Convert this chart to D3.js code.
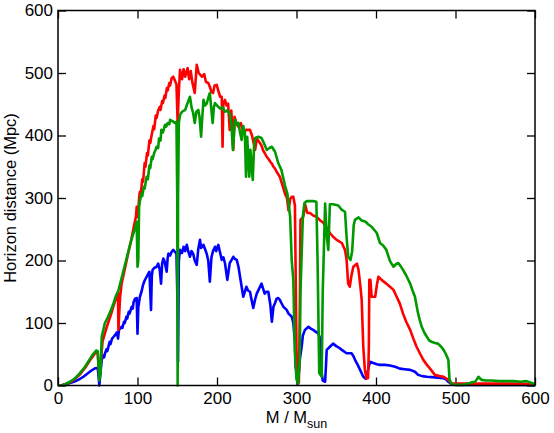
<!DOCTYPE html>
<html>
<head>
<meta charset="utf-8">
<script src="https://cdn.jsdelivr.net/npm/d3@7"></script>
<style>
  body { margin: 0; background: #fff; }
  text { font-family: "Liberation Sans", Arial, Helvetica, sans-serif; }
</style>
</head>
<body>
<div id="chart"></div>
<script>
// horizon distance vs total mass, three detector configurations
let xTicks = [0, 100, 200, 300, 400, 500, 600]
let yTicks = [0, 100, 200, 300, 400, 500, 600]

let redData = [[0,0],[5,0.5],[9,2],[15,5],[21,10],[27,17],[34,28],[40,40],[44,47],[48,54],[50,50],[52,14],[54,40],[56,70],[60,88],[63,100],[67,115],[70,128],[74,143],[75.5,148],[76,89],[78,140],[80,163],[84,186],[88,210],[92,232],[95,252],[98,270],[99,286],[100.5,270],[102,300],[103,310],[104,305],[106,330],[107,326],[109,356],[110,350],[112,372],[113,368],[115,392],[116,388],[118,402],[120,415],[121,410],[123,432],[124,428],[126,440],[128,446],[129,441],[131,455],[132,452],[134,464],[135,460],[137,476],[138,472],[140,484],[141,480],[143,492],[145,494],[147,488],[149,482],[150.5,420],[152,470],[153.5,505],[156,490],[158,506],[160,494],[163,508],[165,490],[167,503],[169,485],[172,468],[174.5,513],[177,500],[181,494],[184,498],[186,486],[189,484],[191,478],[193,470],[195,468],[197,480],[199.6,481],[202,470],[204,462],[206,462],[207,382],[208,450],[210,457],[212,448],[214,451],[216,409],[218,440],[220.5,377],[222,430],[225,418],[227,414],[230,420],[233,405],[237,409],[241.5,409],[244,400],[248,377],[250,395],[254,388],[256,384],[258,376],[260,372],[262.5,366],[265,362],[267,358],[269,355],[271,350],[273,347],[275,342],[277,338],[279,334],[282,322],[285.5,307],[288,300],[290,280],[292,298],[294,302],[296,302],[298,288],[300,60],[301,9],[303,5],[304,100],[305,265],[308.5,270],[311,289],[313.6,276],[317,276],[321,272],[325,270],[330,264],[334,260],[338,252],[342,244],[346,238],[350.5,233],[357,228],[361,217],[363,201],[365,163],[367,158],[369,175],[371.5,190],[376,195],[378,185],[380,163],[382,137],[384,62],[386,25],[388,11],[390,12],[391,60],[391.6,169],[393,169],[394.5,142],[399,142],[401,160],[403,174],[407,169],[413,163],[417.6,158],[422,153],[426,142],[430,131],[434,115],[438,102],[443,89],[447,75],[451,62],[455,52],[459.5,41],[464,33],[468,27],[474,17],[480,15],[485,14],[491,9],[495,3],[510,3],[530,3],[560,3],[580,3],[600,2]]

let greenData = [[0,0],[5,0.5],[9,2],[15,6],[21,11],[27,19],[34,30],[40,42],[44,50],[48,56],[50,55],[51,30],[52,8],[53.5,20],[55,78],[59,100],[63,110],[67,122],[70,132],[73,144],[76,152],[80,172],[84,192],[88,212],[92,232],[97,252],[99,262],[100,190],[101,200],[102,286],[103,295],[105,307],[106,303],[108,318],[109,315],[111.5,334],[113,330],[115,352],[116,348],[118,366],[119,362],[121,372],[123,378],[124,382],[126,380],[127,395],[129,392],[130,409],[132,405],[134.6,417],[136,414],[138,420],[140,418],[141,425],[144,423],[147,420],[149,422],[150,300],[150.5,0],[151,300],[152,420],[153.5,433],[156,438],[160,441],[163,452],[166,462],[168,445],[170,436],[172,420],[174,438],[176.5,441],[178,430],[180,398],[181,420],[183,457],[185,448],[187,451],[189,460],[191,468],[193,440],[194.6,420],[196,445],[197.5,452],[200,448],[204,443],[207,445],[210,438],[213,440],[216,435],[218,420],[220,377],[222.6,425],[225,418],[227,420],[229,405],[231,393],[233,415],[235,405],[236.5,334],[238,398],[240.6,334],[242,377],[245,329],[246.5,380],[248,396],[252,398],[256,396],[259,388],[262.5,377],[266,380],[269,382],[273,374],[277,356],[281,345],[285.5,320],[288.5,307],[292,270],[294,200],[296,169],[298,52],[300,10],[302,3],[304,40],[305,150],[308,270],[310,292],[313,295],[317,295],[321,295],[325,294],[326.5,200],[328.6,20],[331.7,14],[333,150],[336,291],[338,240],[340,217],[342,290],[346,290],[352.6,288],[357,281],[361,278],[363,238],[365,206],[368,201],[370,215],[372,257],[373.6,265],[378,269],[382,264],[387,262],[390,258],[394.5,254],[401,244],[405,228],[409,224],[413,217],[417.6,199],[422,190],[425,194],[428,196],[431,191],[434,185],[438,176],[443,163],[446,152],[449,142],[451,128],[453,115],[455,105],[457.5,94],[461,84],[464,78],[467,72],[470,70],[474,68],[478,67],[482,62],[485,57],[488,50],[491,41],[492.5,9],[495,3],[500,1],[505.6,1],[510,1],[516,3],[520,5],[524.5,6],[527,10],[529,14],[531,11],[533,9],[538,8],[545,8],[555,7],[565,7],[573,7],[582,6],[589.5,7],[594,5],[596,4],[600,2]]

let blueData = [[0,0],[5,0.3],[13,3],[20,6],[25.5,9],[32,14],[38,20],[42,24],[46.5,27.5],[50,28],[51,15],[52,0],[53,15],[55,41],[57,48],[58,45],[59,51],[61,58],[62,55],[65,70],[66,66],[68,75],[70,78],[72,81],[74,85],[75.5,75],[76.7,89],[78,91],[80,94],[81,92],[83,102],[84,100],[86,110],[87,107],[89,118],[90,115],[92.7,126],[94,123],[95,133],[97,139],[99,140],[100,83],[101,125],[103,142],[105,150],[107,161],[109,168],[111.5,174],[113.6,179],[115,182],[117,121],[118,175],[119,185],[121,188],[124,190],[126,195],[128,185],[129.6,163],[131,195],[132.5,203],[134,199],[136.7,182],[138,205],[139,211],[141,208],[143,214],[145,217],[147,214],[149,211],[150.5,120],[151,38],[152,200],[153.5,217],[156,212],[158,222],[160,215],[162,225],[164,214],[166,206],[168,215],[170,211],[172,200],[174.5,193],[176.5,219],[178.6,233],[180,220],[183,225],[185,218],[187,211],[189,200],[191,166],[193,205],[195,215],[197.5,222],[199,215],[201.6,225],[204,212],[206,201],[208,205],[210,196],[213,169],[216,196],[218,200],[220.5,206],[222,203],[224.8,201],[227,190],[229,174],[231,158],[233,142],[235,150],[237,158],[239,152],[241.5,150],[243,140],[245.6,124],[248,138],[250,147],[253,155],[256,163],[258,155],[260,147],[262,150],[264.5,150],[267,130],[269,102],[271,126],[273,132],[275,139],[277,140],[279,137],[281,132],[283.5,126],[287.6,121],[290,115],[294,110],[296,100],[298,70],[299,30],[302,3],[304,40],[306.5,62],[308,80],[310.7,89],[315,94],[318,91],[321,89],[324,86],[327,84],[329,78],[330.5,50],[331.7,20],[333,8],[336,6],[337,30],[338,57],[342,62],[346,67],[350,63],[354,60],[357,57],[363,51.5],[369.4,51.5],[372,46],[373.6,41],[377,33],[380,25],[384,14],[387,11],[390,25],[392.5,38],[396.6,36],[401,34],[405,33],[411,33],[417.6,32],[424,30],[430,27],[436,26],[443,25],[449,22],[453,17],[458,15],[464,14],[474,13],[485,11.5],[488,10],[491,6],[495,2],[500,1],[520,1],[540,1],[560,1],[580,1],[600,1]]

let margin = {
  top: 10.5,
  right: 19,
  bottom: 47.5,
  left: 58
}

let width = 554
let height = 433

let svg = d3.select("#chart")
  .append("svg")
  .attr("width", width)
  .attr("height", height)

let x = d3.scaleLinear()
  .domain([0, 600])
  .range([margin.left, width - margin.right])

let y = d3.scaleLinear()
  .domain([0, 600])
  .range([height - margin.bottom, margin.top])

let line = d3.line()
  .x(d => x(d[0]))
  .y(d => y(d[1]))

// ticks on all four sides, pointing inward
svg.append("g")
  .attr("transform", `translate(0,${y(0)})`)
  .call(d3.axisBottom(x).tickValues(xTicks).tickSize(-8).tickPadding(6))
  .call(g => g.select(".domain").remove())

svg.append("g")
  .attr("transform", `translate(0,${y(600)})`)
  .call(d3.axisTop(x).tickValues(xTicks).tickSize(-8).tickFormat(""))
  .call(g => g.select(".domain").remove())

svg.append("g")
  .attr("transform", `translate(${x(0)},0)`)
  .call(d3.axisLeft(y).tickValues(yTicks).tickSize(-8).tickPadding(5))
  .call(g => g.select(".domain").remove())

svg.append("g")
  .attr("transform", `translate(${x(600)},0)`)
  .call(d3.axisRight(y).tickValues(yTicks).tickSize(-8).tickFormat(""))
  .call(g => g.select(".domain").remove())

svg.selectAll(".tick line")
  .attr("stroke", "#000")
  .attr("stroke-width", 1.3)

svg.selectAll(".tick text")
  .attr("fill", "#000")
  .style("font-size", "17px")
  .style("font-family", "'Liberation Sans', Arial, sans-serif")

let series = [
  { data: blueData, color: "#0000ff" },
  { data: redData, color: "#ff0000" },
  { data: greenData, color: "#009900" }
]

svg.append("g")
  .selectAll("path")
  .data(series)
  .enter().append("path")
    .attr("d", d => line(d.data))
    .attr("fill", "none")
    .attr("stroke", d => d.color)
    .attr("stroke-width", 2.6)
    .attr("stroke-linejoin", "round")

svg.append("rect")
  .attr("x", x(0))
  .attr("y", y(600))
  .attr("width", x(600) - x(0))
  .attr("height", y(0) - y(600))
  .attr("fill", "none")
  .attr("stroke", "#000")
  .attr("stroke-width", 1.5)

svg.append("text")
  .attr("transform", `translate(16,${(y(0) + y(600)) / 2}) rotate(-90)`)
  .attr("text-anchor", "middle")
  .style("font-size", "16.5px")
  .text("Horizon distance (Mpc)")

let xLabel = svg.append("text")
  .attr("x", x(300))
  .attr("y", 423)
  .attr("text-anchor", "middle")
  .style("font-size", "16.5px")
xLabel.append("tspan").text("M / M")
xLabel.append("tspan")
  .attr("dy", 5)
  .style("font-size", "12.5px")
  .text("sun")
</script>
</body>
</html>
